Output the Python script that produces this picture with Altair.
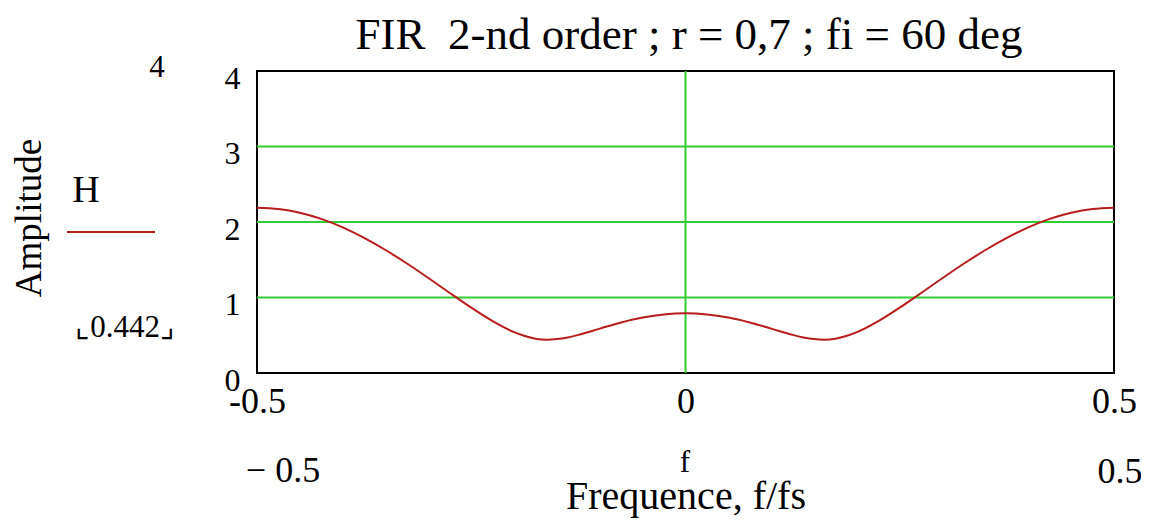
import altair as alt
import pandas as pd

# Frequency response |H| (symmetric about f = 0)
freq_pos = [0.0, 0.025, 0.05, 0.075, 0.1, 0.125, 0.1375, 0.15, 0.1625, 0.175,
            0.1875, 0.2, 0.225, 0.25, 0.275, 0.3, 0.325, 0.35, 0.375, 0.4,
            0.425, 0.45, 0.475, 0.5]
amp_pos = [0.790, 0.776, 0.734, 0.669, 0.588, 0.505, 0.471, 0.449, 0.442, 0.455,
           0.489, 0.541, 0.687, 0.866, 1.060, 1.258, 1.450, 1.629, 1.790, 1.929,
           2.041, 2.123, 2.173, 2.190]

freqs = [-f for f in freq_pos[:0:-1]] + freq_pos
amps = amp_pos[:0:-1] + amp_pos

grid_y = [1, 2, 3]
grid_x = [0]
x_ticks = [-0.5, 0, 0.5]
y_ticks = [0, 1, 2, 3, 4]

title_text = "FIR \u00a02-nd order ; r = 0,7 ; fi = 60 deg"

df = pd.DataFrame({"f": freqs, "H": amps})
W, H = 857, 302
SERIF = "Liberation Serif"

xs = alt.Scale(domain=[-0.5, 0.5], nice=False, zero=False)
ys = alt.Scale(domain=[0, 4], nice=False)

x_axis = alt.Axis(values=x_ticks, title=None, grid=False, ticks=False, domain=False,
                  labelFont=SERIF, labelFontSize=36, labelColor="#000",
                  labelPadding=11, labelFlush=False, labelOverlap=False,
                  labelExpr="datum.value == 0 ? '0' : (datum.value < 0 ? '-0.5' : '0.5')")
y_axis = alt.Axis(values=y_ticks, title=None, grid=False, ticks=False, domain=False,
                  labelFont=SERIF, labelFontSize=32, labelColor="#000",
                  labelPadding=17, labelBaseline="top", labelOffset=-8,
                  labelFlush=False, labelOverlap=False)

gy = alt.Chart(pd.DataFrame({"v": grid_y})).mark_rule(color="#33cc33", strokeWidth=2).encode(
    y=alt.Y("v:Q", scale=ys, axis=y_axis))
gx = alt.Chart(pd.DataFrame({"v": grid_x})).mark_rule(color="#33cc33", strokeWidth=2).encode(
    x=alt.X("v:Q", scale=xs, axis=x_axis))

line = alt.Chart(df).mark_line(color="#b81c1c", strokeWidth=2, interpolate="monotone").encode(
    x=alt.X("f:Q", scale=xs, axis=x_axis),
    y=alt.Y("H:Q", scale=ys, axis=y_axis),
)

def txt(text, x, y, size=32, angle=0, align="center", baseline="alphabetic"):
    return alt.Chart(pd.DataFrame({"t": [text]})).mark_text(
        font=SERIF, fontSize=size, color="#000", align=align, baseline=baseline, angle=angle
    ).encode(text="t:N", x=alt.value(x), y=alt.value(y))

texts = [
    txt(title_text, 432, -22, size=45),
    txt("Amplitude", -227, 147, size=37, angle=270, baseline="middle"),
    txt("H", -171, 120, size=38, baseline="middle"),
    txt("4", -100, -3, size=31, baseline="middle"),
    txt("\u231e0.442\u231f", -132, 257, size=31, baseline="middle"),
    txt("\u2212 0.5", 26, 411, size=36),
    txt("f", 428, 401, size=31),
    txt("0.5", 863, 412, size=36),
    txt("Frequence, f/fs", 429, 438, size=40),
]

legend_line = alt.Chart(pd.DataFrame({"a": [0]})).mark_rule(color="#b81c1c", strokeWidth=2).encode(
    x=alt.value(-190), x2=alt.value(-102), y=alt.value(161))

chart = alt.layer(gy, gx, line, legend_line, *texts).properties(
    width=W, height=H,
    background="white",
    autosize=alt.AutoSizeParams(type="none"),
    padding={"left": 249, "top": 63, "right": 27, "bottom": 150},
).configure_view(stroke="#000", strokeWidth=2)

chart.save("out.html", embed_options={"renderer": "svg", "actions": False})
